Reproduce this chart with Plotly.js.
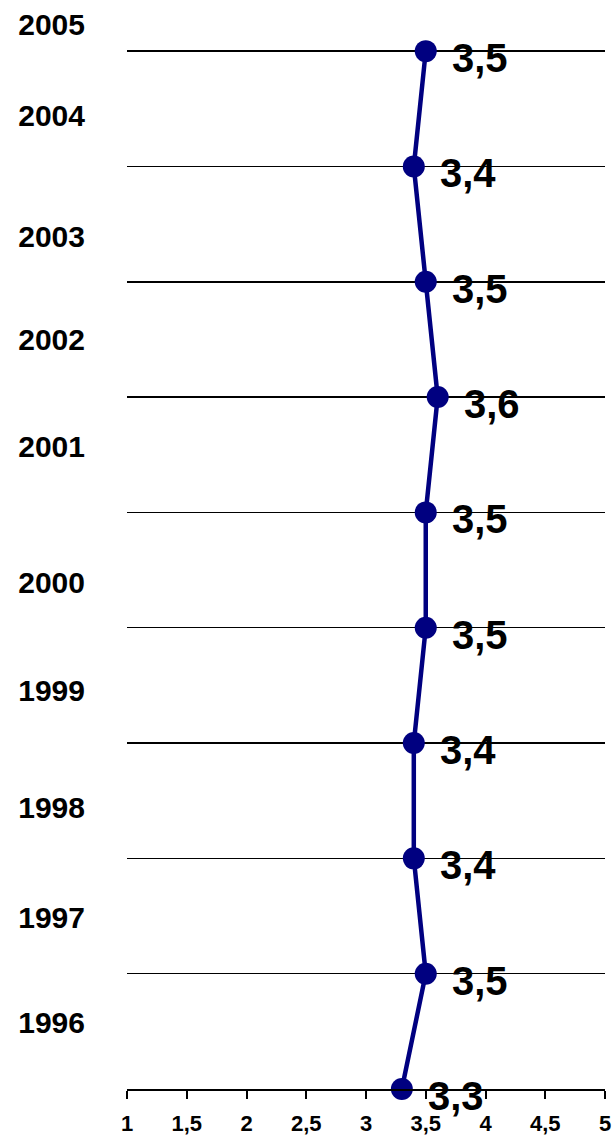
<!DOCTYPE html>
<html>
<head>
<meta charset="utf-8">
<script src="https://cdn.plot.ly/plotly-3.0.1.min.js"></script>
<style>html,body{margin:0;padding:0;background:#fff;}#chart{width:615px;height:1139px;}</style>
</head>
<body>
<div id="chart"></div>
<script>
// Data (bottom to top)
var years = ["1996","1997","1998","1999","2000","2001","2002","2003","2004","2005"];
var pointPos = [0, 1, 2, 3, 4, 5, 6, 7, 8, 9];
var values = [3.3, 3.5, 3.4, 3.4, 3.5, 3.5, 3.6, 3.5, 3.4, 3.5];
var yearLabelPos = [0.58, 1.49, 2.44, 3.46, 4.39, 5.57, 6.50, 7.39, 8.44, 9.23];
var xTickVals = [1, 1.5, 2, 2.5, 3, 3.5, 4, 4.5, 5];
var xTickText = ["1", "1,5", "2", "2,5", "3", "3,5", "4", "4,5", "5"];

function fmt(v) { return v.toFixed(1).replace(".", ","); }

var FONT = "Liberation Sans, Arial, sans-serif";

var trace = {
  x: values,
  y: pointPos,
  type: "scatter",
  mode: "lines+markers",
  line: {color: "#000080", width: 4.5},
  marker: {color: "#000080", size: 22},
  cliponaxis: false,
  hoverinfo: "none",
  showlegend: false
};

var dummy = {
  x: [values[0]], y: [pointPos[0]], yaxis: "y2", type: "scatter", mode: "markers",
  marker: {opacity: 0}, hoverinfo: "none", showlegend: false
};

var annotations = values.map(function (v, i) {
  return {
    x: v, y: pointPos[i], xref: "x", yref: "y",
    text: "<b>" + fmt(v) + "</b>",
    showarrow: false, xanchor: "left", yanchor: "middle",
    xshift: 24, yshift: -7,
    font: {family: FONT, size: 40, color: "#000"}
  };
});

var layout = {
  width: 615, height: 1139,
  margin: {l: 127, r: 10, t: 5, b: 50},
  paper_bgcolor: "#fff", plot_bgcolor: "#fff",
  separators: ", ",
  showlegend: false,
  xaxis: {
    range: [1, 5],
    tickmode: "array",
    tickvals: xTickVals, ticktext: xTickText,
    ticks: "outside", ticklen: 8, tickwidth: 2, tickcolor: "#000",
    showline: true, linecolor: "#000", linewidth: 2,
    showgrid: false, zeroline: false,
    tickfont: {family: FONT, size: 22, color: "#000", weight: "bold"},
    ticklabelstandoff: 6
  },
  yaxis: {
    range: [0, 9.4],
    tickmode: "array",
    tickvals: pointPos,
    showticklabels: false,
    showgrid: true, gridcolor: "#000", gridwidth: 1.5,
    zeroline: false, showline: false, ticks: ""
  },
  yaxis2: {
    range: [0, 9.4], overlaying: "y", side: "left",
    tickmode: "array",
    tickvals: yearLabelPos, ticktext: years,
    showgrid: false, zeroline: false, showline: false, ticks: "",
    tickfont: {family: FONT, size: 30, color: "#000", weight: "bold"},
    ticklabelstandoff: 41
  },
  annotations: annotations
};

Plotly.newPlot("chart", [trace, dummy], layout, {staticPlot: true, displayModeBar: false});
</script>
</body>
</html>
